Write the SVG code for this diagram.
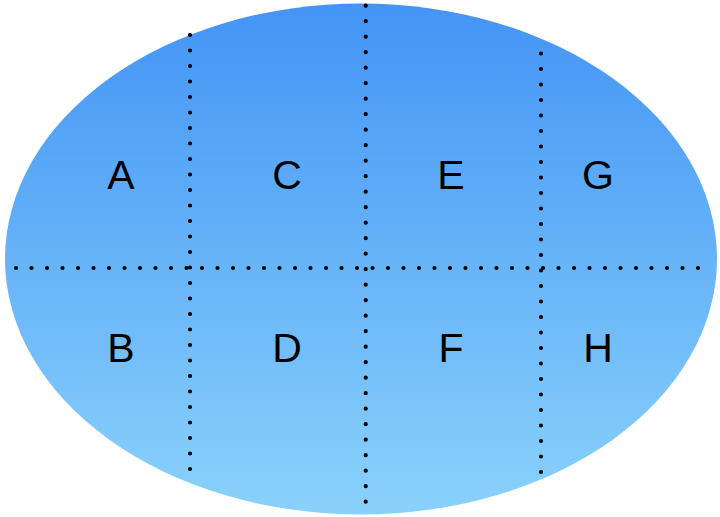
<svg xmlns="http://www.w3.org/2000/svg" width="720" height="517" viewBox="0 0 720 517">
  <defs>
    <linearGradient id="g" x1="0" y1="0" x2="0" y2="1">
      <stop offset="0" stop-color="#4394F5"/>
      <stop offset="1" stop-color="#8AD2FB"/>
    </linearGradient>
    <style>
      .dot { fill: none; stroke: #000; stroke-width: 4.2; stroke-linecap: round; stroke-dasharray: 0 15.5; }
      .lbl { font-family: "Liberation Sans", Arial, sans-serif; font-size: 41px; fill: #000; text-anchor: middle; }
    </style>
  </defs>
  <rect width="720" height="517" fill="#fff"/>
  <g id="region">
    <ellipse cx="361" cy="259" rx="356" ry="255.5" fill="url(#g)"/>
  </g>
  <g id="connectors">
    <line class="dot" x1="190" y1="35" x2="190" y2="470"/>
    <line class="dot" x1="365.7" y1="5.7" x2="365.7" y2="503"/>
    <line class="dot" x1="541" y1="53.5" x2="541" y2="473"/>
    <line class="dot" x1="16" y1="268" x2="700" y2="268"/>
  </g>
  <g id="A"><text class="lbl" x="121" y="189">A</text></g>
  <g id="C"><text class="lbl" x="287" y="189">C</text></g>
  <g id="E"><text class="lbl" x="451" y="189">E</text></g>
  <g id="G"><text class="lbl" x="598" y="189">G</text></g>
  <g id="B"><text class="lbl" x="121" y="362">B</text></g>
  <g id="D"><text class="lbl" x="287" y="362">D</text></g>
  <g id="F"><text class="lbl" x="451" y="362">F</text></g>
  <g id="H"><text class="lbl" x="598" y="362">H</text></g>
</svg>
